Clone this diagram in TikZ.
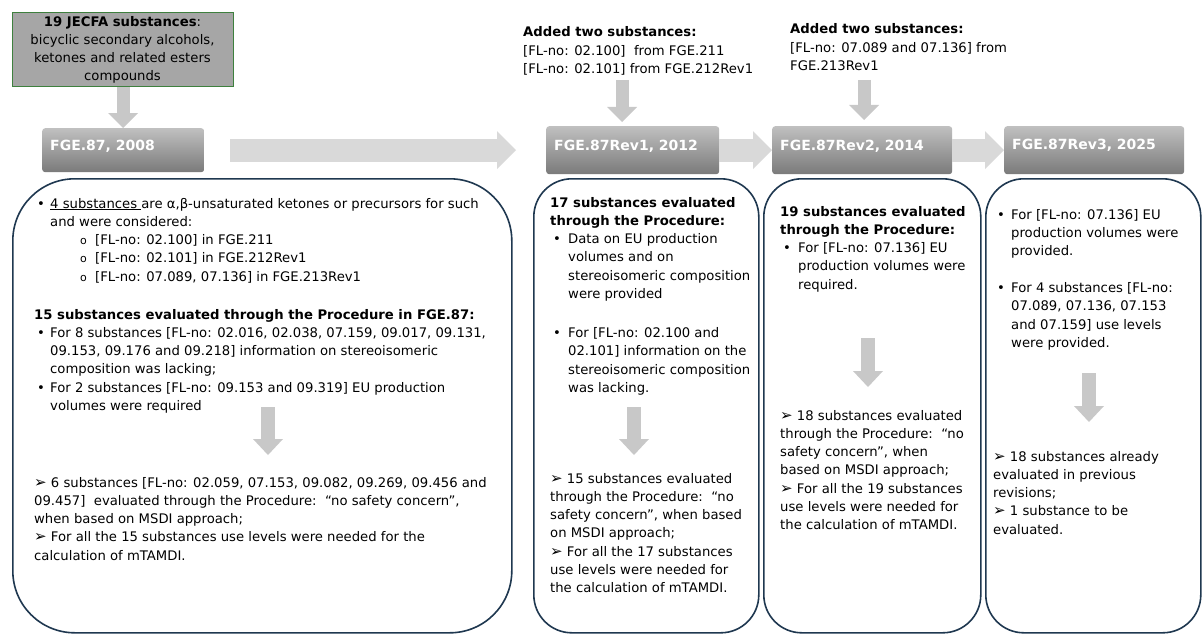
\documentclass[tikz,border=0pt]{standalone}
\usepackage{fontspec}
\setmainfont{DejaVu Sans}
\usetikzlibrary{arrows.meta,calc}
\definecolor{navy}{RGB}{31,56,80}
\definecolor{jgreen}{RGB}{62,128,62}
\definecolor{jfill}{RGB}{166,166,166}
\definecolor{hdrtop}{RGB}{192,192,192}
\definecolor{hdrbot}{RGB}{122,122,122}
\definecolor{harc}{RGB}{217,217,217}
\definecolor{darc}{RGB}{200,200,200}
\newcommand{\tb}[2]{\begin{minipage}[t]{#1}\raggedright #2\end{minipage}}
\newcommand{\myarr}{{\fontsize{15}{11}\selectfont ➢}}
\newcommand{\bul}[1]{\makebox[#1][l]{•}}
\begin{document}
\begin{tikzpicture}[x=1pt,y=-1pt,
  rbox/.style={draw=navy, line width=1.6pt, anchor=north west, inner sep=0pt},
  hdr/.style={rounded corners=3pt, top color=hdrtop, bottom color=hdrbot, draw=none, anchor=north west, inner sep=0pt},
  hdrtxt/.style={anchor=base west, inner sep=0pt, text=white, font=\fontsize{14}{16}\selectfont\bfseries},
  jbox/.style={draw=jgreen, line width=1.4pt, fill=jfill, anchor=north west, inner sep=0pt},
  txt/.style={anchor=base west, inner sep=0pt, font=\fontsize{13.2}{18.3}\selectfont},
  harrow/.style={draw=harc, line width=23pt, -{Triangle[width=38pt,length=19pt,line width=0pt]}},
  darrow/.style={draw=darc, line width=13pt, -{Triangle[width=30pt,length=15pt,line width=0pt]}},
  barrow/.style={draw=darc, line width=14pt, -{Triangle[width=30pt,length=16pt,line width=0pt]}}
]
\fill[white] (0,0) rectangle (1203,634);
\useasboundingbox (0,0) rectangle (1203,634);

% top-left source box
\node[jbox, minimum width=221pt, minimum height=74pt] (jecfa) at (12,12) {};
\node[anchor=base, inner sep=0pt, font=\fontsize{13.2}{18}\selectfont] (jt) at (122.5,27)
  {\begin{minipage}[t]{218pt}\centering
   \textbf{19 JECFA substances}:\\
   bicyclic secondary alcohols,\\
   ketones and related esters\\
   compounds\end{minipage}};

% header boxes
\node[hdr, minimum width=162pt, minimum height=44pt] (h1) at (42,128) {};
\node[hdr, minimum width=173pt, minimum height=48pt] (h2) at (546,126) {};
\node[hdr, minimum width=180pt, minimum height=48pt] (h3) at (772,126) {};
\node[hdr, minimum width=180pt, minimum height=48pt] (h4) at (1004,126) {};
\node[hdrtxt] (h1t) at (50,150) {FGE.87, 2008};
\node[hdrtxt] (h2t) at (554,150) {FGE.87Rev1, 2012};
\node[hdrtxt] (h3t) at (780,150) {FGE.87Rev2, 2014};
\node[hdrtxt] (h4t) at (1012,149) {FGE.87Rev3, 2025};

% horizontal arrows
\draw[harrow, shorten <=26pt, shorten >=30pt] (h1.east) -- (h1.east -| h2.west);
\draw[harrow] (h2.east) -- (h2.east -| h3.west);
\draw[harrow] (h3.east) -- (h3.east -| h4.west);

% added substances texts
\node[txt] (add1) at (523,37) {\tb{230pt}{%
  \textbf{Added two substances:}\\{}%
  [FL-no: 02.100]\ \ from FGE.211\\{}%
  [FL-no: 02.101] from FGE.212Rev1}};
\node[txt] (add2) at (790,34) {\tb{230pt}{%
  \textbf{Added two substances:}\\{}%
  [FL-no: 07.089 and 07.136] from\\
  FGE.213Rev1}};

% down arrows at top
\draw[darrow] (jecfa.south) -- (jecfa.south |- h1.north);
\coordinate (a1) at (622,80);
\coordinate (a2) at (864,80);
\draw[darrow, shorten >=4pt] (a1) -- (a1 |- h2.north);
\draw[darrow, shorten >=6pt] (a2) -- (a2 |- h3.north);

% rounded content boxes
\node[rbox, rounded corners=62pt, minimum width=499pt, minimum height=454pt] (B1) at (12,178) {};
\node[rbox, rounded corners=38pt, minimum width=225pt, minimum height=454pt] (B2) at (533,178) {};
\node[rbox, rounded corners=38pt, minimum width=217pt, minimum height=454pt] (B3) at (763,178) {};
\node[rbox, rounded corners=38pt, minimum width=215pt, minimum height=454pt] (B4) at (985,178) {};

% box 1
\node[txt] (t1a) at (37,208) {\tb{470pt}{%
  \bul{13pt}\underline{4 substances\ }are α,β-unsaturated ketones or precursors for such\\
  \hspace*{13pt}and were considered:\\
  \hspace*{43pt}\makebox[15pt][l]{\fontsize{11}{11}\selectfont o}[FL-no: 02.100] in FGE.211\\
  \hspace*{43pt}\makebox[15pt][l]{\fontsize{11}{11}\selectfont o}[FL-no: 02.101] in FGE.212Rev1\\
  \hspace*{43pt}\makebox[15pt][l]{\fontsize{11}{11}\selectfont o}[FL-no: 07.089, 07.136] in FGE.213Rev1}};
\node[txt] (t1b) at (34,319) {\tb{470pt}{%
  \textbf{15 substances evaluated through the Procedure in FGE.87:}\\
  \hspace*{3pt}\bul{13pt}For 8 substances [FL-no: 02.016, 02.038, 07.159, 09.017, 09.131,\\
  \hspace*{16pt}09.153, 09.176 and 09.218] information on stereoisomeric\\
  \hspace*{16pt}composition was lacking;\\
  \hspace*{3pt}\bul{13pt}For 2 substances [FL-no: 09.153 and 09.319] EU production\\
  \hspace*{16pt}volumes were required}};
\coordinate (c1s) at (268,407);
\coordinate (c1e) at (268,455);
\draw[barrow] (c1s) -- (c1e);
\node[txt] (t1c) at (34,487) {\tb{470pt}{%
  \myarr\ 6 substances [FL-no: 02.059, 07.153, 09.082, 09.269, 09.456 and\\
  09.457]\ \ evaluated through the Procedure:\ \ “no safety concern”,\\
  when based on MSDI approach;\\
  \myarr\ For all the 15 substances use levels were needed for the\\
  calculation of mTAMDI.}};

% box 2
\node[txt] (t2a) at (550,207) {\tb{210pt}{%
  \textbf{17 substances evaluated}\\
  \textbf{through the Procedure:}\\
  \hspace*{3pt}\bul{15pt}Data on EU production\\
  \hspace*{18pt}volumes and on\\
  \hspace*{18pt}stereoisomeric composition\\
  \hspace*{18pt}were provided\\[20.7pt]
  \hspace*{3pt}\bul{15pt}For [FL-no: 02.100 and\\
  \hspace*{18pt}02.101] information on the\\
  \hspace*{18pt}stereoisomeric composition\\
  \hspace*{18pt}was lacking.}};
\coordinate (c2s) at (634,407);
\coordinate (c2e) at (634,455);
\draw[barrow] (c2s) -- (c2e);
\node[txt] (t2b) at (550,483) {\tb{210pt}{%
  \myarr\ 15 substances evaluated\\
  through the Procedure:\ \ “no\\
  safety concern”, when based\\
  on MSDI approach;\\
  \myarr\ For all the 17 substances\\
  use levels were needed for\\
  the calculation of mTAMDI.}};

% box 3
\node[txt] (t3a) at (780,216) {\tb{200pt}{%
  \textbf{19 substances evaluated}\\
  \textbf{through the Procedure:}\\
  \hspace*{3pt}\bul{15pt}For [FL-no: 07.136] EU\\
  \hspace*{18pt}production volumes were\\
  \hspace*{18pt}required.}};
\coordinate (c3s) at (868,338);
\coordinate (c3e) at (868,387);
\draw[barrow] (c3s) -- (c3e);
\node[txt] (t3b) at (780,420) {\tb{200pt}{%
  \myarr\ 18 substances evaluated\\
  through the Procedure:\ \ “no\\
  safety concern”, when\\
  based on MSDI approach;\\
  \myarr\ For all the 19 substances\\
  use levels were needed for\\
  the calculation of mTAMDI.}};

% box 4
\node[txt] (t4a) at (997,219) {\tb{200pt}{%
  \bul{14pt}For [FL-no: 07.136] EU\\
  \hspace*{14pt}production volumes were\\
  \hspace*{14pt}provided.\\[18.7pt]
  \bul{14pt}For 4 substances [FL-no:\\
  \hspace*{14pt}07.089, 07.136, 07.153\\
  \hspace*{14pt}and 07.159] use levels\\
  \hspace*{14pt}were provided.}};
\coordinate (c4s) at (1089,373);
\coordinate (c4e) at (1089,422);
\draw[barrow] (c4s) -- (c4e);
\node[txt] (t4b) at (993,461) {\tb{200pt}{%
  \myarr\ 18 substances already\\
  evaluated in previous\\
  revisions;\\
  \myarr\ 1 substance to be\\
  evaluated.}};
\end{tikzpicture}
\end{document}
